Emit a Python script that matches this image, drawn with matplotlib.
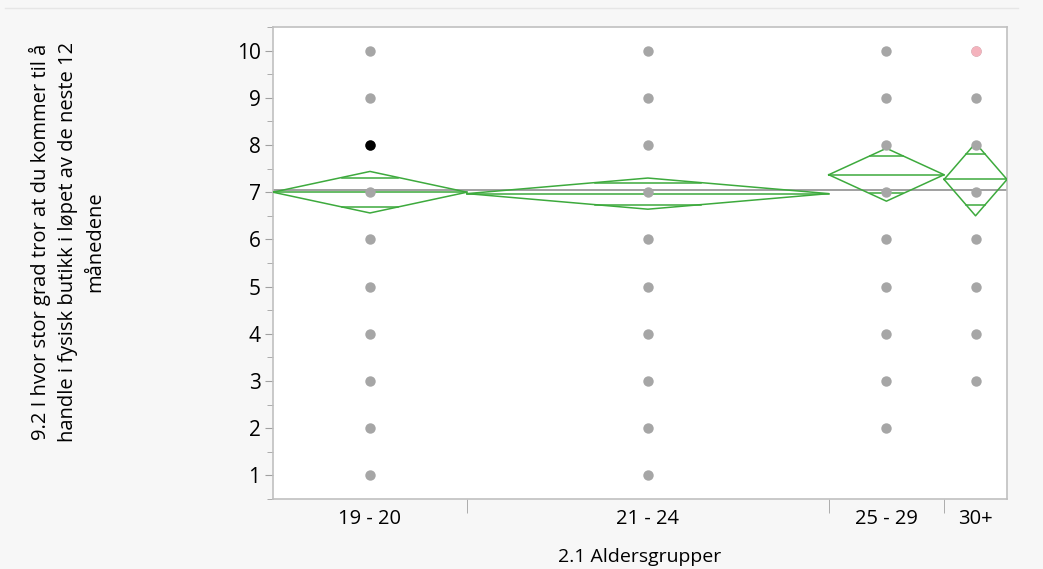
import matplotlib.pyplot as plt
import numpy as np

plt.rcParams['font.family'] = ['Open Sans', 'DejaVu Sans']

groups = ['19 - 20', '21 - 24', '25 - 29', '30+']
counts = [37, 69, 22, 12]          # group widths (sample size)
means = [7.00, 6.97, 7.37, 7.27]
ci_half = [0.44, 0.33, 0.56, 0.77]
grand_mean = 7.04

# answer values observed in each group
values = [
    [1, 2, 3, 4, 5, 6, 7, 8, 9, 10],
    [1, 2, 3, 4, 5, 6, 7, 8, 9, 10],
    [2, 3, 4, 5, 6, 7, 8, 9, 10],
    [3, 4, 5, 6, 7, 8, 9, 10],
]
# highlighted points (group index, value, colour)
highlights = [(0, 8, 'black'), (3, 10, '#f4b3bd')]

fig = plt.figure(figsize=(10.43, 5.69), dpi=100, facecolor='#f7f7f7')
ax = fig.add_axes([273 / 1043, 1 - 499 / 569, 734 / 1043, 472 / 569])
ax.set_facecolor('white')

edges = np.concatenate([[0], np.cumsum(counts)])
centers = (edges[:-1] + edges[1:]) / 2

ax.axhline(grand_mean, color='#999999', lw=1.3, zorder=2)

green = '#3daa3d'
for i in range(len(groups)):
    x0, x1, xc = edges[i], edges[i + 1], centers[i]
    m, h = means[i], ci_half[i]
    ax.plot([x0, xc, x1, xc, x0], [m, m + h, m, m - h, m], color=green, lw=1.1, zorder=3)
    ax.plot([x0, x1], [m, m], color=green, lw=1.1, zorder=3)
    ov = h / np.sqrt(2)
    half_w = (x1 - x0) / 2 * (1 - ov / h)
    for y in (m + ov, m - ov):
        ax.plot([xc - half_w, xc + half_w], [y, y], color=green, lw=1.1, zorder=3)
    ax.plot([xc] * len(values[i]), values[i], 'o', color='#a6a6a6', ms=7.5, mec='none', zorder=4)

for gi, v, c in highlights:
    ax.plot(centers[gi], v, 'o', color=c, ms=7.5, mec='none', zorder=5)

ax.set_xlim(edges[0], edges[-1])
ax.set_ylim(0.5, 10.5)
ax.set_yticks(range(1, 11))
ax.set_yticks(np.arange(0.5, 11, 1), minor=True)
ax.set_xticks(centers)
ax.set_xticklabels(groups)
ax.set_xticks(edges[1:-1], minor=True)

ax.tick_params(axis='y', which='major', length=6, color='#a0a0a0', labelsize=15, pad=3)
ax.tick_params(axis='y', which='minor', length=4, color='#a0a0a0')
ax.tick_params(axis='x', which='major', length=0, labelsize=14.5, pad=7)
ax.tick_params(axis='x', which='minor', length=10, color='#a0a0a0')
for s in ax.spines.values():
    s.set_color('#c0c0c0')
    s.set_linewidth(1.2)

ax.set_xlabel('2.1 Aldersgrupper', fontsize=14, labelpad=14)
fig.text(67 / 1043, 1 - 242 / 569,
         '9.2 I hvor stor grad tror at du kommer til å\nhandle i fysisk butikk i løpet av de neste 12\nmånedene',
         rotation=90, ha='center', va='center', fontsize=14.5, linespacing=1.45, multialignment='center')

fig.add_artist(plt.Line2D([5 / 1043, 1018 / 1043], [1 - 8 / 569, 1 - 8 / 569],
                          transform=fig.transFigure, color='#e6e6e6', lw=1))

fig.savefig('out.png', dpi=100, facecolor=fig.get_facecolor())
